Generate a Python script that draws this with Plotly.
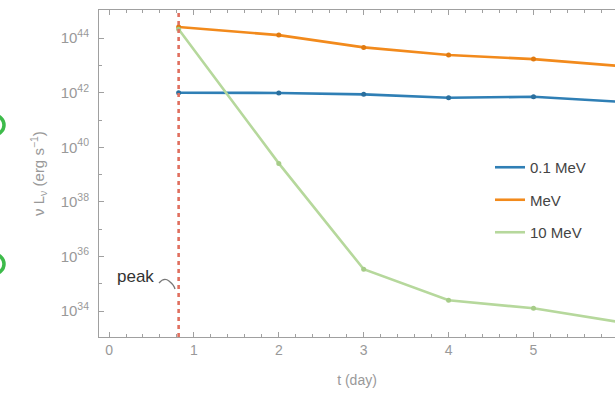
import plotly.graph_objects as go

# ---- data ----
t_days = [0.82, 2, 3, 4, 5, 6]
lum_0p1MeV = [1.0e42, 9.8e41, 8.7e41, 6.5e41, 7.1e41, 4.7e41]
lum_1MeV = [2.57e44, 1.29e44, 4.57e43, 2.40e43, 1.70e43, 9.6e42]
lum_10MeV = [2.1e44, 2.57e39, 3.4e35, 2.5e34, 1.26e34, 4.0e33]
series_names = ["0.1 MeV", "MeV", "10 MeV"]
peak_day = 0.82

y_tickvals = [1e34, 1e36, 1e38, 1e40, 1e42, 1e44]
y_ticktext = ["10<sup>34</sup>", "10<sup>36</sup>", "10<sup>38</sup>",
              "10<sup>40</sup>", "10<sup>42</sup>", "10<sup>44</sup>"]
y_minor = [1e33, 1e35, 1e37, 1e39, 1e41, 1e43, 1e45]
x_tickvals = [0, 1, 2, 3, 4, 5, 6]

colors = ["#2f7fb5", "#f28a1c", "#b6d89c"]
marker_colors = ["#2a6f9e", "#e07a10", "#a6cc88"]

fig = go.Figure()
for name, ys, c, mc in zip(series_names, [lum_0p1MeV, lum_1MeV, lum_10MeV], colors, marker_colors):
    fig.add_trace(go.Scatter(
        x=t_days, y=ys, name=name, mode="lines", legendgroup=name,
        line=dict(color=c, width=2.6),
    ))
    fig.add_trace(go.Scatter(
        x=t_days, y=ys, name=name, mode="markers", legendgroup=name, showlegend=False,
        marker=dict(color=mc, size=5),
    ))

# peak line
fig.add_shape(type="line", xref="x", yref="paper", x0=peak_day, x1=peak_day, y0=0, y1=1,
              line=dict(color="#e07060", width=2.6, dash="4px,4px"))

L, R, T, B = 99, 0, 10, 60
W, H = 615, 397
PW, PH = W - L - R, H - T - B


def px(x):
    return (x - L) / PW


def py(y):
    return (H - B - y) / PH


# "peak" label and its little curved leader
fig.add_annotation(xref="paper", yref="paper", x=px(135), y=py(276), xanchor="center", yanchor="middle",
                   text="peak", showarrow=False,
                   font=dict(size=17, color="#333333", family="Liberation Sans Narrow, Liberation Sans"))
fig.add_shape(type="path", xref="paper", yref="paper",
              path=f"M {px(159)} {py(283)} Q {px(164)} {py(277)} {px(169)} {py(281)} T {px(175)} {py(289)}",
              line=dict(color="#777777", width=1.3))

# partially visible green circles at the left edge (cropped neighbouring elements)
for yc in (125, 264):
    fig.add_shape(type="circle", xref="paper", yref="paper",
                  x0=px(-17), x1=px(4), y0=py(yc + 10), y1=py(yc - 10),
                  line=dict(color="#3dbb4a", width=3.5))

# cropped "6" tick label
fig.add_annotation(xref="paper", yref="paper", x=px(618.5), y=py(354), xanchor="center", yanchor="middle",
                   text="6", showarrow=False, font=dict(size=14, color="#999999"))

axis_col = "#a0a0a0"
fig.update_layout(
    width=W, height=H,
    margin=dict(l=L, r=R, t=T, b=B),
    plot_bgcolor="white", paper_bgcolor="white",
    font=dict(family="Liberation Sans, Arial, sans-serif", color="#999999", size=14),
    showlegend=True,
    legend=dict(x=px(490), y=py(151), xanchor="left", yanchor="top",
                bgcolor="rgba(255,255,255,0.92)", font=dict(size=15, color="#444444"),
                tracegroupgap=10, itemwidth=30),
    xaxis=dict(range=[-0.118, 5.96], tickvals=x_tickvals, showgrid=False, zeroline=False,
               showline=True, linecolor=axis_col, linewidth=1, mirror="allticks",
               ticks="inside", ticklen=5, tickcolor=axis_col,
               minor=dict(dtick=0.2, ticks="inside", ticklen=3, tickcolor=axis_col),
               tickfont=dict(size=14, color="#999999"),
               title=dict(text="t (day)", font=dict(size=14, color="#999999"), standoff=18)),
    yaxis=dict(type="log", range=[33.05, 45.03], tickvals=y_tickvals, ticktext=y_ticktext,
               showgrid=False, zeroline=False, showline=True, linecolor=axis_col, linewidth=1,
               mirror=False, ticks="inside", ticklen=5, tickcolor=axis_col,
               minor=dict(tickvals=y_minor, ticks="inside", ticklen=3, tickcolor=axis_col),
               tickfont=dict(size=15, color="#999999"), ticklabelstandoff=6,
               title=dict(text="ν L<sub>ν</sub> (erg s<sup>−1</sup>)", font=dict(size=15, color="#999999"),
                          standoff=12)),
)

fig.write_html("out.html", config={"displayModeBar": False},
               post_script="document.body.style.margin='0';document.body.style.overflow='hidden';")
